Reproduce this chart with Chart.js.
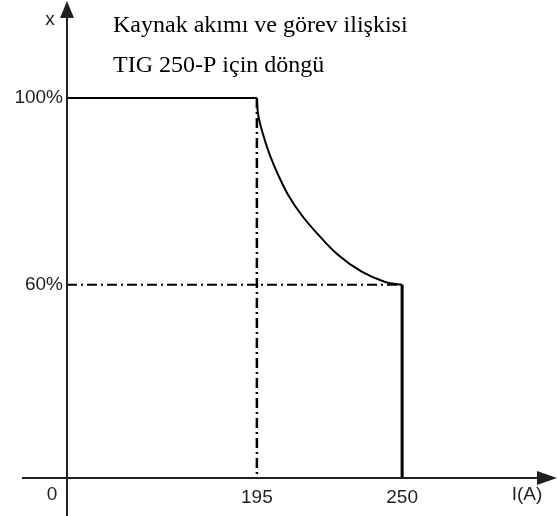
<!DOCTYPE html>
<html>
<head>
<meta charset="utf-8">
<script src="https://cdn.jsdelivr.net/npm/chart.js@4"></script>
<style>
    body { margin: 0; background: #fff; }
    canvas { display: block; }
</style>
</head>
<body>
<canvas id="dutyChart" width="557" height="516"></canvas>
<script>
// tick labels
var xTicks = [195, 250];
var yTicks = [60, 100];

// rated duty line, then the falling curve, then the drop at max current
var flatI = [0, 195];
var flatX = [100, 100];
var curveI = [195, 195.5, 197.4, 199.9, 203.1, 206.9, 212, 218.3, 225.8, 234.7, 243.6, 250];
var curveX = [100, 96.4, 92.1, 87.8, 83.5, 79.2, 74.9, 70.7, 66.4, 62.8, 60.6, 60];
var dropI = [250, 250];
var dropX = [60, 0];

// dash-dot guides
var guideVI = [195, 195];
var guideVX = [100, 0];
var guideHI = [0, 250];
var guideHX = [60, 60];

function pts(xs, ys) {
    return xs.map(function (x, i) { return { x: x, y: ys[i] }; });
}

// the drawing is a sketch, not to scale: map values piecewise
class PiecewiseScale extends Chart.LinearScale {
    static id = 'piecewise';
    toDecimal(v) {
        var b = this.options.breaks;
        for (var i = 1; i < b.length; i++) {
            if (v <= b[i][0] || i === b.length - 1) {
                var t = (v - b[i - 1][0]) / (b[i][0] - b[i - 1][0]);
                return b[i - 1][1] + t * (b[i][1] - b[i - 1][1]);
            }
        }
        return 0;
    }
    getPixelForValue(v) {
        return this.getPixelForDecimal(this.toDecimal(v));
    }
    getValueForPixel(p) {
        var d = this.getDecimalForPixel(p);
        var b = this.options.breaks;
        for (var i = 1; i < b.length; i++) {
            if (d <= b[i][1] || i === b.length - 1) {
                var t = (d - b[i - 1][1]) / (b[i][1] - b[i - 1][1]);
                return b[i - 1][0] + t * (b[i][0] - b[i - 1][0]);
            }
        }
        return 0;
    }
}
Chart.register(PiecewiseScale);

var ink = '#231f20';
var dashDot = [10, 4, 2, 4];

var axesPlugin = {
    id: 'axesPlugin',
    afterDraw: function (chart) {
        var c = chart.ctx;
        var a = chart.chartArea;
        var ox = a.left, oy = a.bottom;
        c.save();
        c.strokeStyle = ink;
        c.fillStyle = ink;
        c.lineWidth = 2;
        // x axis
        c.beginPath();
        c.moveTo(22, oy);
        c.lineTo(a.right, oy);
        c.stroke();
        c.beginPath();
        c.moveTo(557, oy);
        c.lineTo(a.right, oy - 7);
        c.lineTo(a.right, oy + 7);
        c.closePath();
        c.fill();
        // y axis
        c.beginPath();
        c.moveTo(ox, 516);
        c.lineTo(ox, a.top);
        c.stroke();
        c.beginPath();
        c.moveTo(ox, 1);
        c.lineTo(ox - 7, a.top);
        c.lineTo(ox + 7, a.top);
        c.closePath();
        c.fill();

        c.font = '19px "Liberation Sans", Arial, sans-serif';
        c.textAlign = 'center';
        c.textBaseline = 'middle';
        c.fillText('x', 50, 20);
        c.fillText('0', 52, 495);
        c.fillText('I(A)', 527, 495);

        c.fillStyle = '#000';
        c.textAlign = 'left';
        c.textBaseline = 'alphabetic';
        c.font = '24px "Liberation Serif", "Times New Roman", serif';
        c.fillText('Kaynak akımı ve görev ilişkisi', 113, 32);
        c.fillText('TIG 250-P için döngü', 113, 72);
        c.restore();
    }
};

new Chart(document.getElementById('dutyChart'), {
    type: 'line',
    data: {
        datasets: [
            {
                data: pts(flatI, flatX),
                borderColor: '#000',
                borderWidth: 2
            },
            {
                data: pts(curveI, curveX),
                borderColor: '#000',
                borderWidth: 2,
                tension: 0.4
            },
            {
                data: pts(dropI, dropX),
                borderColor: '#000',
                borderWidth: 3
            },
            {
                data: pts(guideVI, guideVX),
                borderColor: '#000',
                borderWidth: 2.5,
                borderDash: dashDot
            },
            {
                data: pts(guideHI, guideHX),
                borderColor: '#000',
                borderWidth: 2,
                borderDash: dashDot
            }
        ]
    },
    options: {
        responsive: false,
        animation: false,
        elements: { point: { radius: 0 }, line: { tension: 0 } },
        layout: { padding: { top: 18, right: 20, left: 0, bottom: 0 } },
        plugins: {
            legend: { display: false },
            tooltip: { enabled: false }
        },
        scales: {
            x: {
                type: 'piecewise',
                min: 0,
                max: 300,
                breaks: [[0, 0], [195, 0.404], [250, 0.713], [300, 1]],
                grid: { display: false, drawTicks: false },
                border: { display: false },
                afterBuildTicks: function (s) {
                    s.ticks = xTicks.map(function (v) { return { value: v }; });
                },
                afterFit: function (s) { s.height = 38; },
                ticks: {
                    padding: 8,
                    maxRotation: 0,
                    color: ink,
                    font: { family: '"Liberation Sans", Arial, sans-serif', size: 19 }
                }
            },
            y: {
                type: 'piecewise',
                min: 0,
                max: 120,
                breaks: [[0, 0], [60, 0.42], [100, 0.826], [120, 1]],
                grid: { display: false, drawTicks: false },
                border: { display: false },
                afterBuildTicks: function (s) {
                    s.ticks = yTicks.map(function (v) { return { value: v }; });
                },
                afterFit: function (s) { s.width = 67; },
                ticks: {
                    padding: 4,
                    color: ink,
                    font: { family: '"Liberation Sans", Arial, sans-serif', size: 19 },
                    callback: function (v) { return v + '%'; }
                }
            }
        }
    },
    plugins: [axesPlugin]
});
</script>
</body>
</html>
